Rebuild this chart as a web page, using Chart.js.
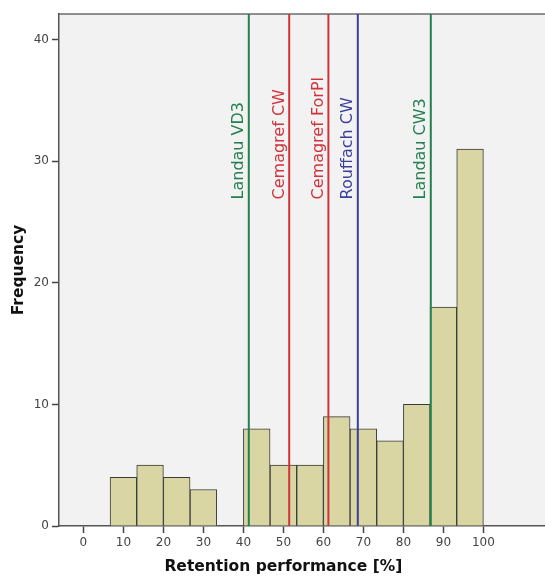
<!DOCTYPE html>
<html>
<head>
<meta charset="utf-8">
<script src="https://cdn.jsdelivr.net/npm/chart.js@4/dist/chart.umd.min.js"></script>
<style>
  html, body { margin: 0; padding: 0; background: #fff; }
  #wrap { width: 545px; height: 576px; }
</style>
</head>
<body>
<div id="wrap"><canvas id="histChart" width="545" height="576"></canvas></div>
<script>
// -----------------------------
// Data
// -----------------------------
// histogram bins (width 100/15), centre of each bin and its count
const binWidth = 100 / 15;
const binStarts = [6.667, 13.333, 20, 26.667, 40, 46.667, 53.333, 60, 66.667, 73.333, 80, 86.667, 93.333];
const binCounts = [4, 5, 4, 3, 8, 5, 5, 9, 8, 7, 10, 18, 31];

// reference lines (retention of single systems)
const refNames = ["Landau VD3", "Cemagref CW", "Cemagref ForPl", "Rouffach CW", "Landau CW3"];
const refValues = [41.35, 51.45, 61.25, 68.6, 86.85];
const refColors = ["#23804f", "#d1333b", "#d1333b", "#3b3f9b", "#23804f"];

const xTicks = [0, 10, 20, 30, 40, 50, 60, 70, 80, 90, 100];
const yTicks = [0, 10, 20, 30, 40];

const X_MIN = -6.1, X_MAX = 115.4;
const Y_MIN = 0, Y_MAX = 42.1;

const FONT = "'DejaVu Sans', sans-serif";

// -----------------------------
// Datasets
// -----------------------------
const barData = binStarts.map((s, i) => ({ x: s + binWidth / 2, y: binCounts[i] }));

const refDatasets = refValues.map((v, i) => ({
  type: "line",
  label: refNames[i],
  data: [{ x: v, y: Y_MIN }, { x: v, y: Y_MAX }],
  borderColor: refColors[i],
  borderWidth: 2,
  pointRadius: 0,
  fill: false,
  order: 0
}));

// -----------------------------
// Plugins
// -----------------------------
const plotFrame = {
  id: "plotFrame",
  beforeDraw(chart) {
    const { ctx, chartArea: a } = chart;
    ctx.save();
    ctx.fillStyle = "#f2f2f2";
    ctx.fillRect(a.left, a.top, a.right - a.left, a.bottom - a.top);
    ctx.strokeStyle = "#6b6b6b";
    ctx.lineWidth = 1.5;
    ctx.beginPath();
    ctx.moveTo(a.left, a.top);
    ctx.lineTo(a.right, a.top);
    ctx.stroke();
    ctx.restore();
  }
};

const refLabels = {
  id: "refLabels",
  afterDatasetsDraw(chart) {
    const { ctx, scales } = chart;
    const yStart = scales.y.getPixelForValue(26.85);
    ctx.save();
    ctx.font = "16px " + FONT;
    ctx.textAlign = "left";
    ctx.textBaseline = "alphabetic";
    refValues.forEach((v, i) => {
      const px = scales.x.getPixelForValue(v);
      ctx.save();
      ctx.translate(px - 5.5, yStart);
      ctx.rotate(-Math.PI / 2);
      ctx.fillStyle = refColors[i];
      ctx.fillText(refNames[i], 0, 0);
      ctx.restore();
    });
    ctx.restore();
  }
};

const axisTitles = {
  id: "axisTitles",
  afterDraw(chart) {
    const { ctx, scales, chartArea: a } = chart;
    ctx.save();
    ctx.fillStyle = "#111";
    ctx.font = "bold 15.5px " + FONT;
    ctx.textAlign = "center";
    ctx.textBaseline = "middle";
    ctx.fillText("Retention performance [%]", scales.x.getPixelForValue(50), 567);
    ctx.translate(18.5, (a.top + a.bottom) / 2);
    ctx.rotate(-Math.PI / 2);
    ctx.fillText("Frequency", 0, 0);
    ctx.restore();
  }
};

// -----------------------------
// Chart
// -----------------------------
const ctx = document.getElementById("histChart").getContext("2d");
new Chart(ctx, {
  type: "bar",
  data: {
    datasets: [
      {
        label: "Frequency",
        data: barData,
        backgroundColor: "#d9d6a4",
        borderColor: "#3a3a3a",
        borderWidth: 1,
        barPercentage: 1,
        categoryPercentage: 1,
        order: 1
      },
      ...refDatasets
    ]
  },
  options: {
    responsive: false,
    animation: false,
    devicePixelRatio: 1,
    layout: { padding: { top: 14, right: 0, bottom: 0, left: 0 } },
    plugins: {
      legend: { display: false },
      tooltip: { enabled: false }
    },
    scales: {
      x: {
        type: "linear",
        min: X_MIN,
        max: X_MAX,
        offset: false,
        afterBuildTicks(scale) {
          scale.ticks = xTicks.map(v => ({ value: v }));
        },
        afterFit(scale) {
          scale.height = 50;
        },
        ticks: {
          autoSkip: false,
          maxRotation: 0,
          padding: 3,
          color: "#444",
          font: { family: FONT, size: 12 }
        },
        grid: {
          offset: false,
          drawOnChartArea: false,
          drawTicks: true,
          tickLength: 7,
          tickWidth: 1.5,
          tickColor: "#444"
        },
        border: { display: true, color: "#555", width: 1.5 }
      },
      y: {
        min: Y_MIN,
        max: Y_MAX,
        afterBuildTicks(scale) {
          scale.ticks = yTicks.map(v => ({ value: v }));
        },
        afterFit(scale) {
          scale.width = 59;
        },
        ticks: {
          padding: 3,
          color: "#444",
          font: { family: FONT, size: 12 }
        },
        grid: {
          drawOnChartArea: false,
          drawTicks: true,
          tickLength: 7,
          tickWidth: 1.5,
          tickColor: "#444"
        },
        border: { display: true, color: "#555", width: 1.5 }
      }
    }
  },
  plugins: [plotFrame, refLabels, axisTitles]
});
</script>
</body>
</html>
